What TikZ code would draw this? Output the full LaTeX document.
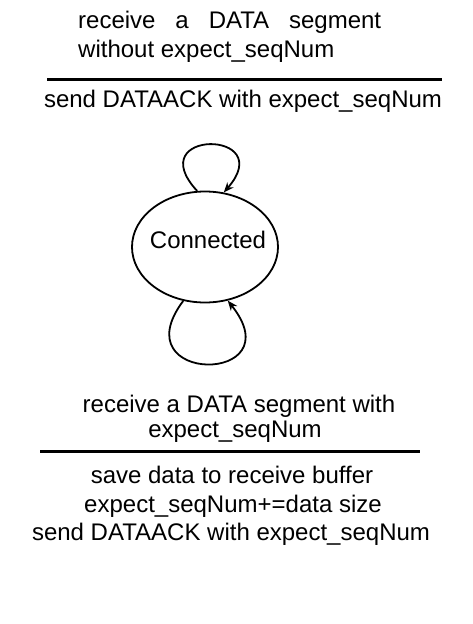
\documentclass[tikz,border=0pt]{standalone}
\usepackage{fontspec}
\setmainfont{Liberation Sans}
\usetikzlibrary{shapes.geometric,arrows.meta}
\begin{document}
\begin{tikzpicture}[x=1pt,y=-1pt,
  txt/.style={inner sep=0pt,font=\fontsize{24}{28}\selectfont},
  rule/.style={line width=3pt},
  loopline/.style={line width=1.8pt,-{Stealth[length=10pt,width=8pt]}}]
\useasboundingbox (0,0) rectangle (472,624);
% top label
\node[txt,anchor=base west] (t1) at (78,28) {\makebox[303pt][s]{receive a DATA segment}};
\node[txt,anchor=base west] (t2) at (78,57) {without expect\_seqNum};
\coordinate (r1a) at (47,79);
\coordinate (r1b) at (442,79);
\draw[rule] (r1a) -- (r1b);
\node[txt,anchor=base] (t3) at (243,107) {send DATAACK with expect\_seqNum};
% state
\node[draw,ellipse,line width=1.8pt,minimum width=146pt,minimum height=111pt,inner sep=0pt] (conn) at (205,247) {};
\node[txt,anchor=base] (connl) at (208,248) {Connected};
% self loops
\draw[loopline] (conn.98) .. controls (140,129) and (279,129) .. (conn.71);
\draw[loopline] (conn.248) .. controls (120,385) and (295,385) .. (conn.293);
% bottom label
\node[txt,anchor=base] (b1) at (239,412) {receive a DATA segment with};
\node[txt,anchor=base] (b2) at (235,437) {expect\_seqNum};
\coordinate (r2a) at (40,451);
\coordinate (r2b) at (420,451);
\draw[rule] (r2a) -- (r2b);
\node[txt,anchor=base] (b3) at (232,483) {save data to receive buffer};
\node[txt,anchor=base] (b4) at (233,512) {expect\_seqNum+=data size};
\node[txt,anchor=base] (b5) at (231,540) {send DATAACK with expect\_seqNum};
\end{tikzpicture}
\end{document}
